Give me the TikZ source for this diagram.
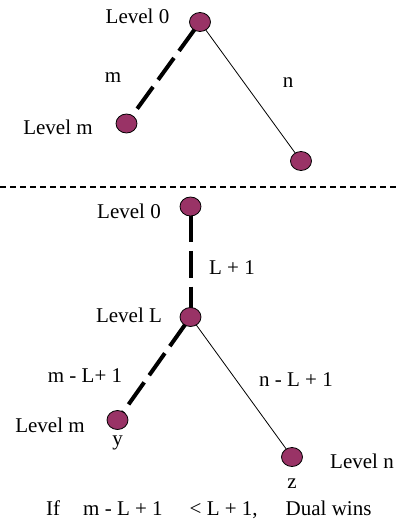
\documentclass[tikz,border=0pt]{standalone}
\usepackage{fontspec}
\setmainfont{Liberation Serif}
\usetikzlibrary{shapes.geometric,backgrounds}
\definecolor{nodefill}{HTML}{993366}
\begin{document}
\begin{tikzpicture}[x=1pt,y=-1pt,
  vtx/.style={ellipse,draw=black,line width=0.8pt,fill=nodefill,minimum width=21pt,minimum height=19pt,inner sep=0pt},
  lbl/.style={anchor=base,inner sep=0pt,font=\fontsize{21}{25}\selectfont},
  thickdash/.style={line width=4pt,dash pattern=on 27pt off 8.7pt,dash phase=27pt},
  thinline/.style={line width=0.8pt},
  sep/.style={line width=1.3pt,dash pattern=on 6pt off 4pt}]
\useasboundingbox (0,0) rectangle (396,524);
% top tree
\node[vtx] (t0) at (200,22) {};
\node[vtx] (tm) at (126.5,123.5) {};
\node[vtx] (tn) at (301,161) {};
\node[lbl] (t0l) at (137.5,24) {Level 0};
\node[lbl] (tml) at (58,134) {Level m};
\node[lbl] (tme) at (113,83) {m};
\node[lbl] (tne) at (288,88) {n};
% separator
\coordinate (sa) at (0,187);
\coordinate (sb) at (396,187);
\draw[sep] (sa) -- (sb);
% bottom tree
\node[vtx] (b0) at (190.5,206.5) {};
\node[vtx] (bL) at (190.5,317) {};
\node[vtx] (by) at (117.5,420) {};
\node[vtx] (bz) at (292,457) {};
\node[lbl] (b0l) at (129,218) {Level 0};
\node[lbl] (bLl) at (129,322) {Level L};
\node[lbl] (bml) at (50,432) {Level m};
\node[lbl] (bnl) at (362,468) {Level n};
\node[lbl] (byl) at (117.5,445) {y};
\node[lbl] (bzl) at (292,488) {z};
\node[lbl] (e1) at (232,274) {L + 1};
\node[lbl] (e2) at (85,382) {m - L+ 1};
\node[lbl] (e3) at (296,386) {n - L + 1};
\node[lbl,anchor=base west] (cond) at (46,515) {If\hspace{23pt}m - L + 1\hspace{27pt}< L + 1,\hspace{28pt}Dual wins};
\begin{scope}[on background layer]
\draw[thickdash] (t0.center) -- (tm.center);
\draw[thinline] (t0.center) -- (tn.center);
\draw[thickdash] (b0.center) -- (bL.center);
\draw[thickdash] (bL.center) -- (by.center);
\draw[thinline] (bL.center) -- (bz.center);
\end{scope}
\end{tikzpicture}
\end{document}
